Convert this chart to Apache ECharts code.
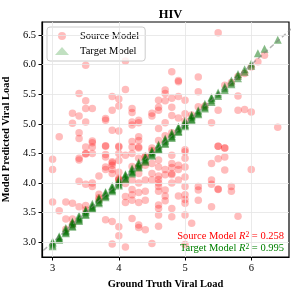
<!DOCTYPE html>
<html>
<head>
<meta charset="utf-8">
<script src="https://cdn.jsdelivr.net/npm/echarts@6/dist/echarts.min.js"></script>
<style>html,body{margin:0;padding:0;background:#fff}#c{width:297px;height:296px}</style>
</head>
<body>
<div id="c"></div>
<script>
const title = 'HIV';
const xName = 'Ground Truth Viral Load';
const yName = 'Model Predicted Viral Load';
const xTicks = [3, 4, 5, 6];
const yTicks = [3.0, 3.5, 4.0, 4.5, 5.0, 5.5, 6.0, 6.5];
const sourceR2 = '0.258';
const targetR2 = '0.995';

const sourceUpper = [
[3.1,4.78],[3.3,5.18],[3.3,5.01],[3.4,5.51],[3.4,5.13],[3.4,4.85],[3.4,4.75],[3.5,5.99],[3.5,5.39],[3.5,5.26],
[3.5,5.03],[3.5,4.61],[3.6,5.26],[3.6,4.71],[3.6,4.61],[3.8,5.09],[3.8,5.06],[3.8,4.62],[3.9,5.46],[3.9,5.23],
[3.9,4.89],[4.0,5.42],[4.0,5.30],[4.0,4.88],[4.0,4.61],[4.1,6.06],[4.1,5.58],[4.2,5.26],[4.2,5.19],[4.2,5.03],
[4.2,4.98],[4.2,4.70],[4.2,4.61],[4.3,5.06],[4.3,5.02],[4.3,4.78],[4.3,4.72],[4.3,4.61],[4.5,5.18],[4.5,5.13],
[4.6,5.40],[4.6,5.28],[4.6,5.23],[4.6,4.92],[4.6,4.72],[4.7,5.57],[4.7,5.51],[4.7,5.39],[4.7,5.02],[4.7,4.80],
[4.8,5.88],[4.8,5.43],[4.8,5.28],[4.8,5.14],[4.9,5.73],[4.9,5.71],[4.9,5.46],[4.9,5.10],[5.0,5.40],[5.0,5.17],
[5.0,4.56],[5.2,5.79],[5.2,5.54],[5.2,5.29],[5.4,5.02],[5.5,6.54],[5.5,5.23],[5.5,4.62],[5.6,4.59],[5.8,5.47],
[5.8,5.23],[5.9,5.24],[6.0,5.20],[6.4,4.94],[5.9,5.85],[6.0,5.96],[6.1,6.05],[6.2,6.16],
[3.5,4.49],[3.6,4.68],[3.8,4.63],[3.8,4.48],[3.4,4.39],[4.0,4.62]
];
const sourceDiag = [
[3.2,3.22],[3.3,3.30],[3.5,3.55],[3.7,3.72],[4.0,4.05],[4.4,4.45],[4.5,4.55],[4.8,4.85],[5.0,5.05],
[5.1,5.15],[5.3,5.30],[5.6,5.65],[5.7,5.70],[5.8,5.80]
];
const sourceLower = [
[3.0,4.40],[3.0,4.23],[3.0,3.68],[3.1,3.53],[3.2,3.68],[3.2,3.39],[3.3,3.66],[3.3,3.39],[3.4,3.60],[3.4,4.03],
[3.4,4.42],[3.5,4.50],[3.5,3.98],[3.5,3.62],[3.6,4.50],[3.6,4.00],[3.6,3.94],[3.7,4.12],[3.7,3.81],[3.7,3.75],
[3.8,4.44],[3.8,4.27],[3.8,4.23],[3.8,3.38],[3.9,4.36],[3.9,4.34],[3.9,4.30],[3.9,4.23],[3.9,4.16],[3.9,3.35],
[3.9,2.97],[4.0,4.50],[4.0,4.38],[4.0,4.18],[4.0,4.08],[4.0,4.06],[4.0,3.26],[4.0,3.11],[4.1,4.47],[4.1,3.99],
[4.1,3.77],[4.1,3.67],[4.1,2.92],[4.2,4.50],[4.2,4.28],[4.2,4.05],[4.2,3.89],[4.2,3.80],[4.2,3.71],[4.2,3.40],
[4.3,4.59],[4.3,4.42],[4.3,4.28],[4.3,4.16],[4.3,4.00],[4.3,3.84],[4.3,3.67],[4.3,3.29],[4.3,3.25],[4.4,4.44],
[4.4,4.30],[4.4,4.05],[4.4,3.86],[4.4,3.71],[4.4,3.21],[4.5,4.59],[4.5,4.33],[4.5,4.16],[4.5,4.05],[4.5,2.98],
[4.6,4.39],[4.6,4.27],[4.6,4.12],[4.6,4.06],[4.6,4.00],[4.6,3.94],[4.6,3.86],[4.6,3.63],[4.6,3.57],[4.6,3.46],
[4.6,3.27],[4.7,4.23],[4.7,4.14],[4.7,3.88],[4.7,3.78],[4.7,3.70],[4.8,4.47],[4.8,4.33],[4.8,4.26],[4.8,4.16],
[4.8,4.14],[4.8,4.00],[4.8,3.57],[4.8,3.43],[4.9,4.30],[4.9,4.23],[4.9,4.05],[4.9,3.78],[5.0,4.53],[5.0,4.42],
[5.0,4.27],[5.0,4.10],[5.0,3.94],[5.0,3.80],[5.0,3.72],[5.0,3.66],[5.0,3.46],[5.0,2.96],[5.1,3.32],[5.2,3.94],
[5.2,3.88],[5.2,3.71],[5.4,4.33],[5.4,4.05],[5.4,3.98],[5.4,3.60],[5.5,4.62],[5.5,4.41],[5.5,3.90],[5.5,3.89],
[5.6,4.59],[5.6,4.44],[5.6,4.22],[5.7,3.94],[5.7,3.86],[5.8,3.44],[6.0,4.23]
];
const targetPoints = [
[3.0,2.93],[3.0,2.96],[3.0,2.99],[3.0,3.01],
[3.1,3.04],[3.1,3.06],[3.1,3.08],[3.1,3.10],
[3.2,3.15],[3.2,3.17],[3.2,3.19],[3.2,3.21],[3.2,3.24],
[3.3,3.26],[3.3,3.28],[3.3,3.31],[3.3,3.33],[3.3,3.35],
[3.4,3.36],[3.4,3.38],[3.4,3.40],[3.4,3.42],[3.4,3.45],
[3.5,3.46],[3.5,3.48],[3.5,3.51],[3.5,3.53],[3.5,3.55],
[3.6,3.56],[3.6,3.58],[3.6,3.60],[3.6,3.62],[3.6,3.65],
[3.7,3.66],[3.7,3.68],[3.7,3.71],[3.7,3.73],[3.7,3.75],
[3.8,3.76],[3.8,3.78],[3.8,3.80],[3.8,3.83],[3.8,3.85],
[3.9,3.86],[3.9,3.88],[3.9,3.90],[3.9,3.93],[3.9,3.95],
[4.0,3.96],[4.0,3.98],[4.0,4.01],[4.0,4.03],[4.0,4.06],
[4.1,4.06],[4.1,4.08],[4.1,4.11],[4.1,4.13],[4.1,4.15],
[4.2,4.16],[4.2,4.18],[4.2,4.20],[4.2,4.23],[4.2,4.25],
[4.3,4.26],[4.3,4.28],[4.3,4.31],[4.3,4.33],[4.3,4.35],
[4.4,4.36],[4.4,4.38],[4.4,4.40],[4.4,4.43],[4.4,4.45],
[4.5,4.46],[4.5,4.48],[4.5,4.51],[4.5,4.53],[4.5,4.55],
[4.6,4.56],[4.6,4.58],[4.6,4.60],[4.6,4.63],[4.6,4.65],
[4.7,4.66],[4.7,4.68],[4.7,4.71],[4.7,4.73],[4.7,4.75],
[4.8,4.76],[4.8,4.78],[4.8,4.80],[4.8,4.83],[4.8,4.85],
[4.9,4.86],[4.9,4.88],[4.9,4.91],[4.9,4.93],[4.9,4.95],
[5.0,4.96],[5.0,4.98],[5.0,5.00],[5.0,5.03],[5.0,5.05],
[5.1,5.06],[5.1,5.08],[5.1,5.11],[5.1,5.13],[5.1,5.15],
[5.2,5.16],[5.2,5.18],[5.2,5.21],[5.2,5.23],
[5.3,5.26],[5.3,5.28],[5.3,5.31],[5.3,5.34],
[5.4,5.37],[5.4,5.40],[5.4,5.43],[5.4,5.45],
[5.5,5.47],[5.5,5.50],[5.5,5.53],
[5.6,5.57],[5.6,5.60],[5.6,5.63],
[5.7,5.67],[5.7,5.70],[5.7,5.73],
[5.8,5.77],[5.8,5.81],[5.8,5.84],
[5.9,5.88],[5.9,5.92],
[6.0,5.98],[6.0,6.02],
[6.1,6.19],[6.2,6.27],[6.4,6.42]
];
const diagonal = [[2.5,2.5],[7,7]];

const sourcePoints = sourceUpper.concat(sourceDiag, sourceLower);
const serif = 'Liberation Serif';

const gridLines = xTicks.map(v => ({xAxis: v})).concat(yTicks.map(v => ({yAxis: v})));

function richStyles(col) {
  return {
    a: {fontFamily: serif, fontSize: 10.5, fill: col},
    i: {fontFamily: serif, fontSize: 10.5, fontStyle: 'italic', fill: col},
    s: {fontFamily: serif, fontSize: 7.5, fill: col, verticalAlign: 'top'}
  };
}

const chart = echarts.init(document.getElementById('c'), null, {renderer: 'canvas'});
chart.setOption({
  animation: false,
  backgroundColor: '#fff',
  title: {
    text: title, left: 165.5, textAlign: 'center', top: 3,
    textStyle: {fontFamily: serif, fontWeight: 'bold', fontSize: 12.5, color: '#000'}
  },
  grid: {left: 42, right: 8, top: 22, bottom: 39, outerBoundsMode: 'none', containLabel: false,
    show: true, borderColor: '#000', borderWidth: 1.2, backgroundColor: 'transparent'},
  legend: {
    orient: 'vertical', left: 47, top: 27,
    padding: [3, 6, 4, 8], itemGap: 3, itemWidth: 14, itemHeight: 8,
    backgroundColor: 'rgba(255,255,255,0.8)', borderColor: '#cccccc', borderWidth: 1, borderRadius: 3,
    textStyle: {fontFamily: serif, fontSize: 10.5, color: '#000', padding: [0, 0, 0, 6], lineHeight: 12},
    data: [{name: 'Source Model', icon: 'circle'}, {name: 'Target Model', icon: 'triangle', itemStyle: {color: 'rgba(0,128,0,0.3)'}}]
  },
  xAxis: {
    type: 'value', min: 2.84, max: 6.57,
    name: xName, nameLocation: 'middle', nameGap: 20,
    nameTextStyle: {fontFamily: serif, fontWeight: 'bold', fontSize: 10.5, color: '#000'},
    axisLine: {show: true, lineStyle: {color: '#000', width: 1.2}},
    axisTick: {show: true, inside: false, length: 3.5, customValues: xTicks, lineStyle: {color: '#000', width: 1}},
    axisLabel: {customValues: xTicks, margin: 6, fontFamily: serif, fontSize: 10.5, color: '#000', formatter: v => String(v)},
    splitLine: {show: false}
  },
  yAxis: {
    type: 'value', min: 2.75, max: 6.72,
    name: yName, nameLocation: 'middle', nameGap: 22,
    nameTextStyle: {fontFamily: serif, fontWeight: 'bold', fontSize: 10.5, color: '#000'},
    axisLine: {show: true, lineStyle: {color: '#000', width: 1.2}},
    axisTick: {show: true, inside: false, length: 3.5, customValues: yTicks, lineStyle: {color: '#000', width: 1}},
    axisLabel: {customValues: yTicks, margin: 6, fontFamily: serif, fontSize: 10.5, color: '#000', formatter: v => v.toFixed(1)},
    splitLine: {show: false}
  },
  series: [
    {
      type: 'line', data: [], z: 1, silent: true,
      markLine: {silent: true, symbol: 'none', label: {show: false}, animation: false,
        lineStyle: {color: '#e4e4e4', width: 0.8, type: 'solid'}, data: gridLines}
    },
    {
      name: 'Source Model', type: 'scatter', data: sourcePoints, symbol: 'circle', symbolSize: 7.5, z: 2,
      itemStyle: {color: 'rgba(255,0,0,0.33)'}
    },
    {
      name: 'Target Model', type: 'scatter', data: targetPoints, symbol: 'triangle', symbolSize: 8, z: 3,
      itemStyle: {color: 'rgba(0,110,0,0.6)'}
    },
    {
      type: 'line', data: diagonal, z: 4, silent: true, symbol: 'none', clip: true,
      lineStyle: {color: 'rgba(128,128,128,0.6)', width: 1.4, type: [5, 3]}
    }
  ],
  graphic: [
    {type: 'text', right: 13, top: 231, z: 10, style: {
      text: '{a|Source Model }{i|R}{s|2}{a| = ' + sourceR2 + '}', align: 'right', rich: richStyles('#ff0000')
    }},
    {type: 'text', right: 13, top: 243, z: 10, style: {
      text: '{a|Target Model }{i|R}{s|2}{a| = ' + targetR2 + '}', align: 'right', rich: richStyles('#008000')
    }}
  ]
});
</script>
</body>
</html>
